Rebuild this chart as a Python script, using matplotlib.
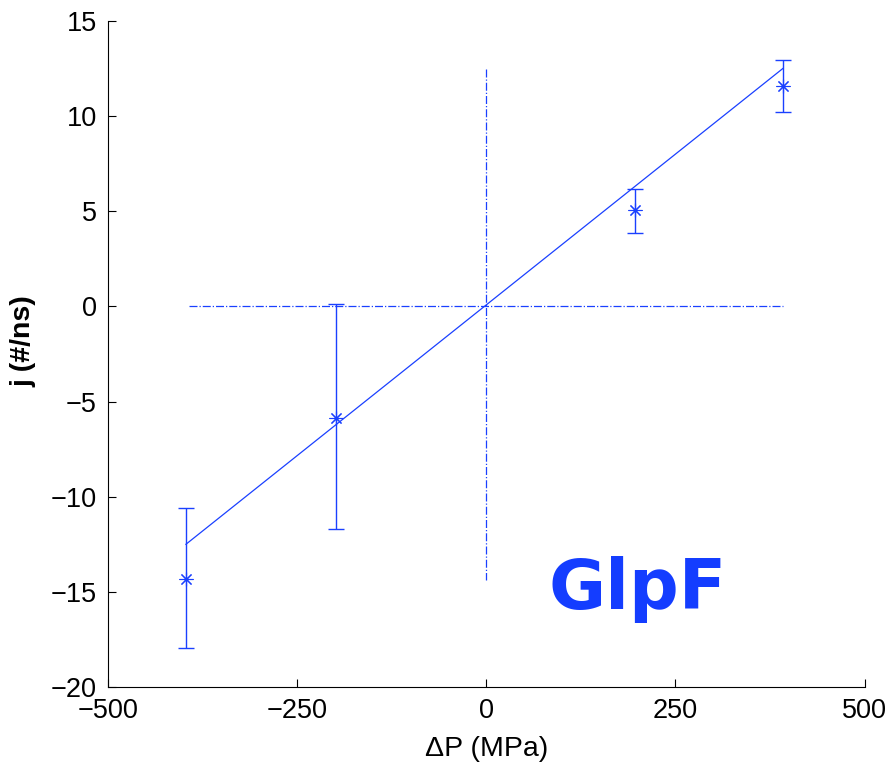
import matplotlib
matplotlib.use('Agg')
import matplotlib.pyplot as plt

# Measured points with error bars
dp = [-397, -199, 196, 392]
flux = [-14.3, -5.85, 5.05, 11.6]
err_low = [3.65, 5.85, 1.2, 1.4]
err_high = [3.7, 5.95, 1.1, 1.35]

# Linear fit end points
fit_x = [-397, 392]
fit_y = [-12.5, 12.5]

# Reference cross lines
hline_x = [-393, 392]
vline_y = [12.5, -14.4]

plt.rcParams['font.family'] = ['Liberation Sans', 'DejaVu Sans']

fig = plt.figure(figsize=(8.88, 7.75), dpi=100)
ax = fig.add_axes([0.1216, 0.1135, 0.852, 0.8595])

blue = (0.1, 0.25, 1.0)
ax.errorbar(dp, flux, yerr=[err_low, err_high], fmt='none', ecolor=blue,
            elinewidth=1.0, capsize=6, capthick=1.0)
ax.plot(dp, flux, linestyle='none', marker=(8, 2, 0), markersize=10,
        markeredgewidth=0.8, color=blue)
ax.plot(fit_x, fit_y, color=blue, linewidth=0.9)
ax.plot(hline_x, [0, 0], color=blue, linewidth=0.9, linestyle='-.')
ax.plot([0, 0], vline_y, color=blue, linewidth=0.9, linestyle='-.')

ax.text(200, -14.9, 'GlpF', color=(0.08, 0.24, 1.0), fontsize=50,
        fontweight='bold', family=['DejaVu Sans'], ha='center', va='center')

ax.set_xlim(-500, 500)
ax.set_ylim(-20, 15)
ax.set_xticks([-500, -250, 0, 250, 500])
ax.set_yticks([-20, -15, -10, -5, 0, 5, 10, 15])
ax.set_xticklabels(['\u2212500', '\u2212250', '0', '250', '500'])
ax.set_yticklabels(['\u221220', '\u221215', '\u221210', '\u22125', '0', '5', '10', '15'])
ax.tick_params(direction='in', length=6, width=0.8, labelsize=19.5, pad=8)
ax.spines['top'].set_visible(False)
ax.spines['right'].set_visible(False)

ax.set_xlabel('\u0394P (MPa)', fontsize=20.5)
ax.set_ylabel('j (#/ns)', fontsize=20.5, fontweight='bold')
ax.xaxis.set_label_coords(0.5, -0.074)
ax.yaxis.set_label_coords(-0.095, 0.52)

fig.savefig('out.png', dpi=100)
